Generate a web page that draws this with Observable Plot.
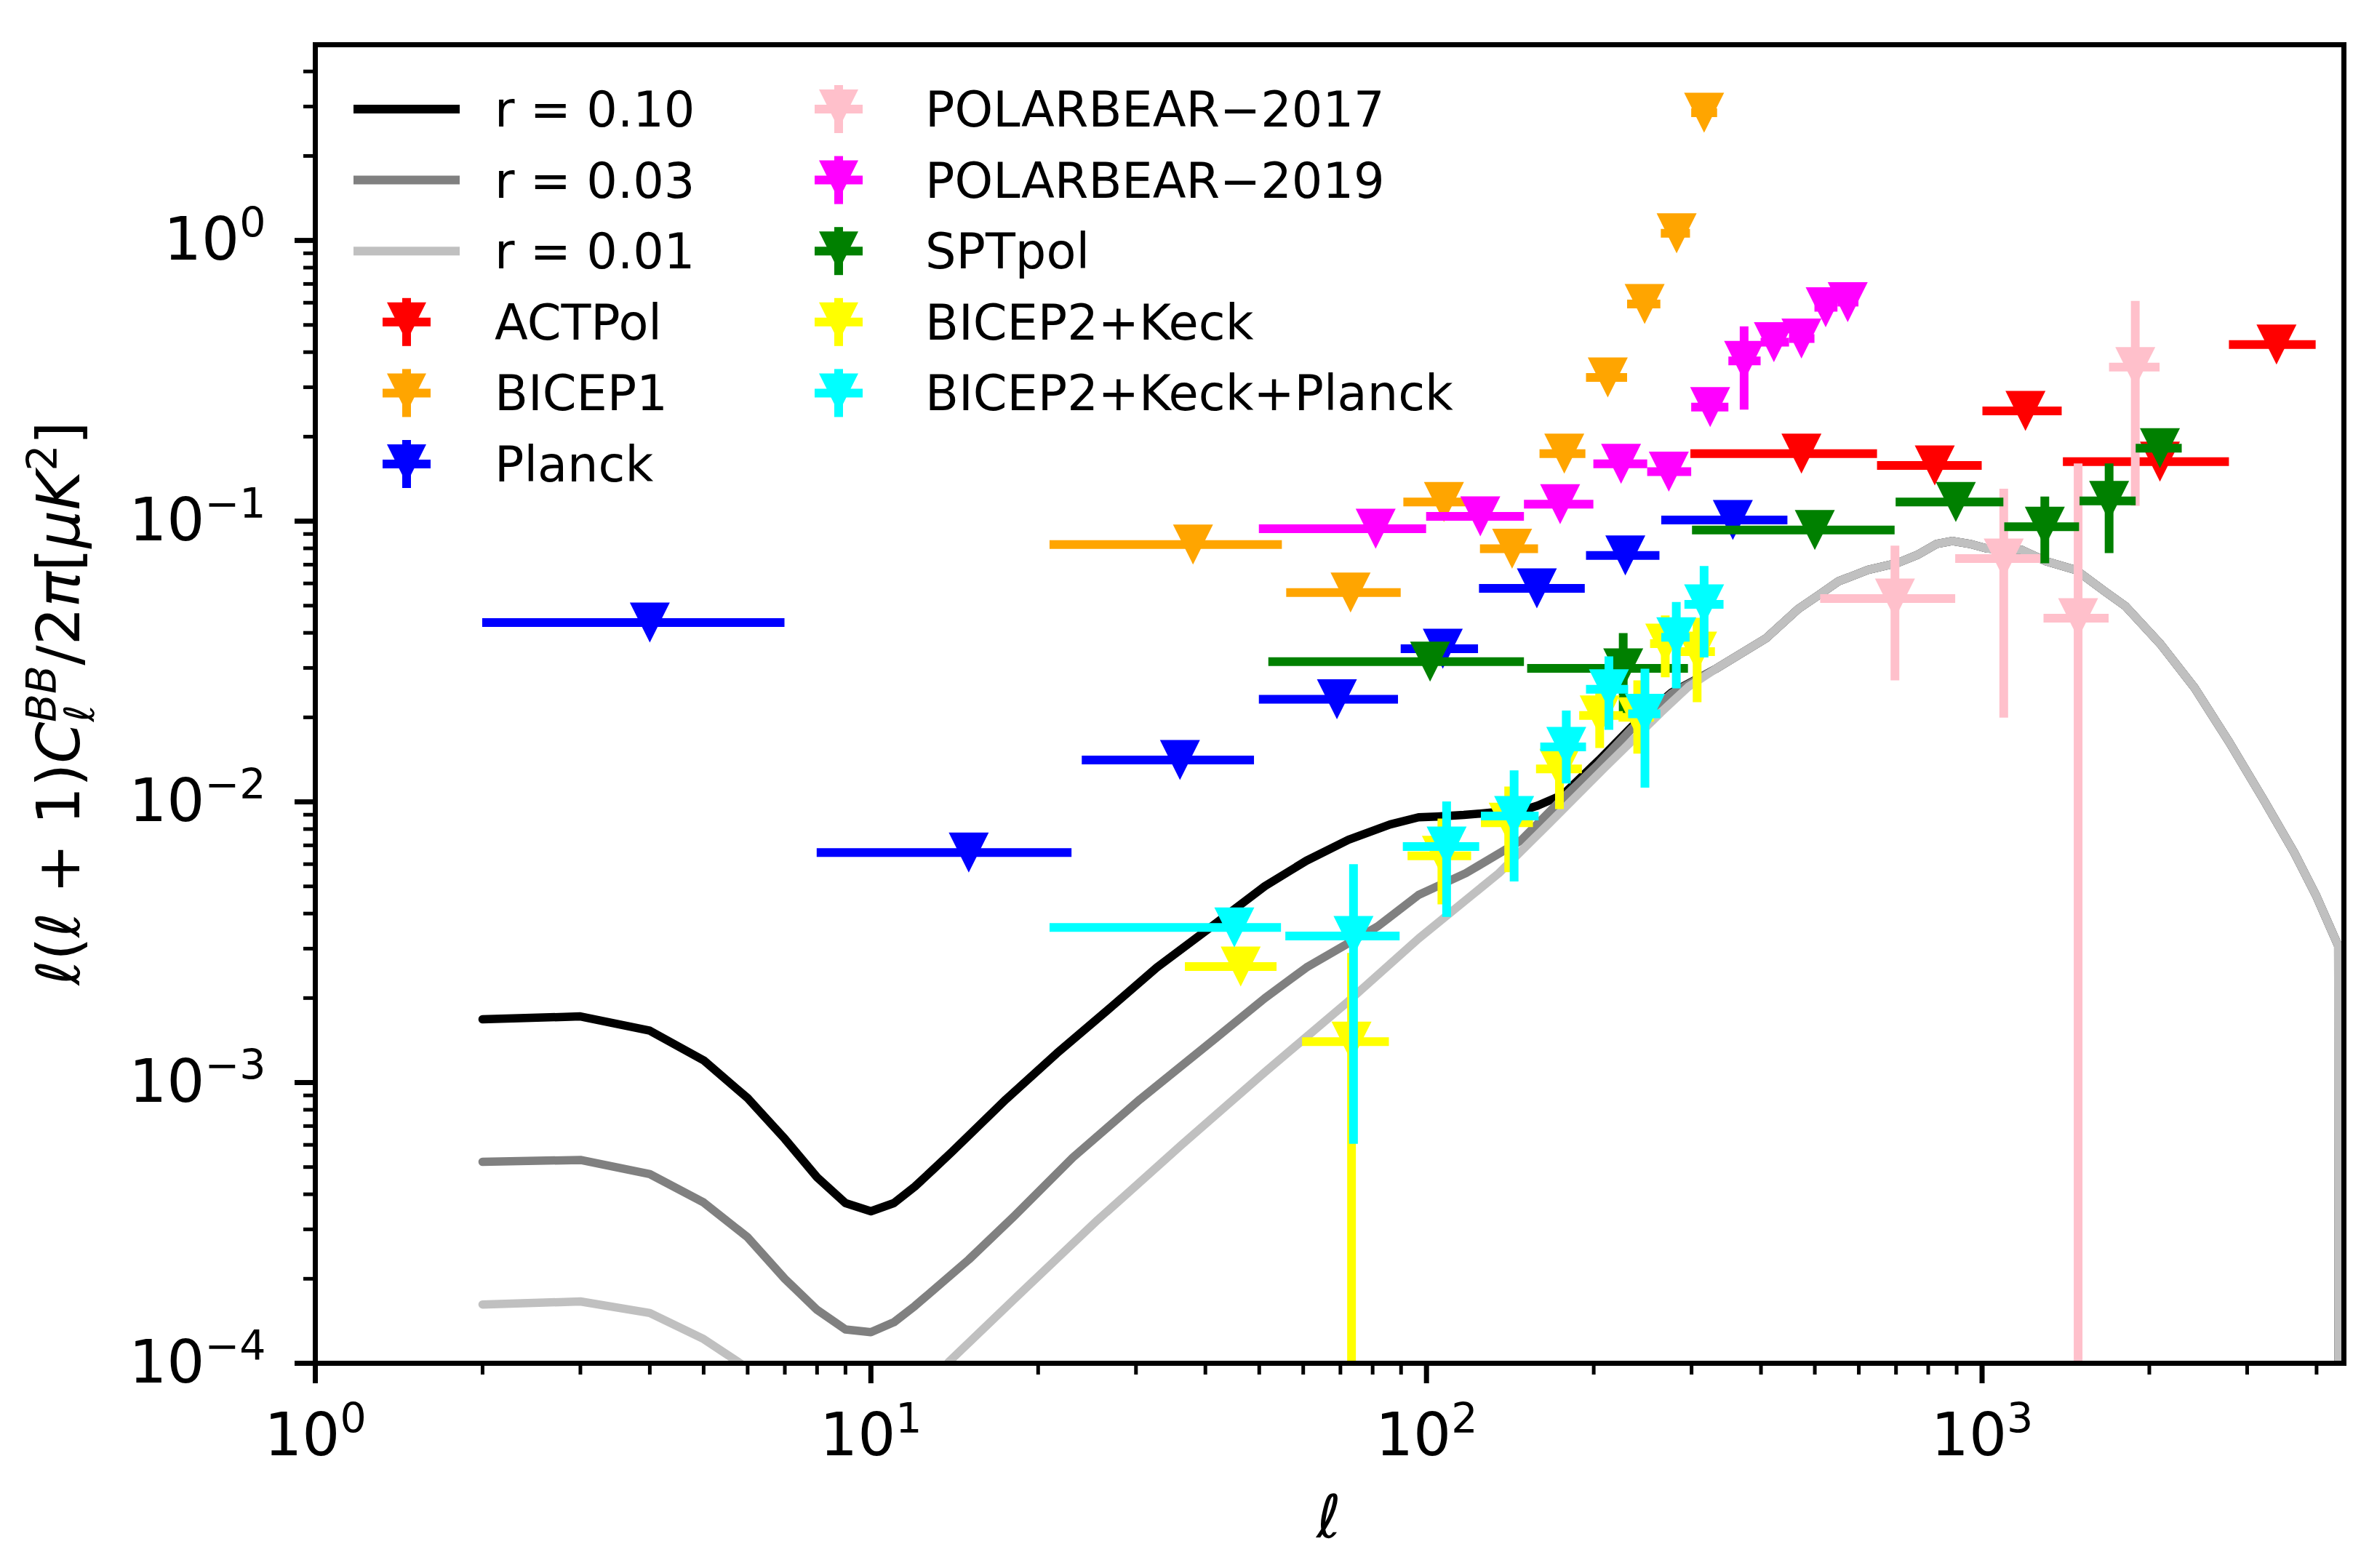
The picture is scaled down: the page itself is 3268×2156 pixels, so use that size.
<!DOCTYPE html>
<html><head><meta charset="utf-8">
<script src="https://cdn.jsdelivr.net/npm/d3@7"></script>
<script src="https://cdn.jsdelivr.net/npm/@observablehq/plot@0.6"></script>
<style>html,body{margin:0;padding:0;background:#fff;} svg{display:block;}</style>
</head><body><div id="chart"></div>
<script>
// ---------- theory curves ----------
const r010Ell = [2,3,4,5,6,7,8,9,10,11,12,13,14,17.5,21.6,27,32.7,41.6,51.2,60.8,72.4,86,96.8,104.7,116.7,132,150,158.5,176,204.5,234.7,276];
const r010Val = [1.68e-3,1.72e-3,1.53e-3,1.20e-3,8.8e-4,6.3e-4,4.6e-4,3.72e-4,3.48e-4,3.72e-4,4.26e-4,4.94e-4,5.67e-4,8.71e-4,1.27e-3,1.85e-3,2.57e-3,3.67e-3,5.01e-3,6.17e-3,7.33e-3,8.31e-3,8.81e-3,8.87e-3,8.98e-3,9.17e-3,9.37e-3,9.7e-3,1.06e-2,1.41e-2,1.86e-2,2.45e-2];
const r003Ell = [2,3,4,5,6,7,8,9,10,11,12,15,18.1,23.1,30.5,41.6,51.2,60.8,72.4,81.7,96.8,117.7,148,176,204.5,234.7,276];
const r003Val = [5.22e-4,5.3e-4,4.72e-4,3.74e-4,2.81e-4,2.0e-4,1.55e-4,1.32e-4,1.29e-4,1.40e-4,1.60e-4,2.34e-4,3.34e-4,5.41e-4,8.71e-4,1.43e-3,2.00e-3,2.57e-3,3.14e-3,3.60e-3,4.66e-3,5.57e-3,7.29e-3,1.03e-2,1.37e-2,1.83e-2,2.43e-2];
const r001Ell = [2,3,4,5,6,7,8,9,10,11,12,13.8,18.1,25.6,36.2,51.2,72.4,96.8,135,166,209,264,296];
const r001Val = [1.62e-4,1.66e-4,1.51e-4,1.22e-4,9.6e-5,7.5e-5,6.2e-5,5.6e-5,5.5e-5,5.9e-5,6.6e-5,1.01e-4,1.69e-4,3.24e-4,5.99e-4,1.09e-3,1.95e-3,3.26e-3,5.57e-3,8.36e-3,1.32e-2,2.08e-2,2.57e-2];
// common high-ell (lensing dominated) tail
const lensEll = [332,408,467,508,551,623,705,767,829,884,950,1018,1100,1177,1304,1475,1668,1811,2094,2412,2786,3219,3645,4000,4376,4395];
const lensVal = [2.98e-2,3.82e-2,4.87e-2,5.45e-2,6.1e-2,6.7e-2,7.1e-2,7.6e-2,8.3e-2,8.5e-2,8.3e-2,8.0e-2,7.9e-2,7.9e-2,7.2e-2,6.7e-2,5.6e-2,4.98e-2,3.65e-2,2.55e-2,1.63e-2,1.01e-2,6.6e-3,4.6e-3,3.07e-3,1e-7];

// ---------- experiments ----------
const actpolEll = [473, 822, 1197, 2090, 3388];
const actpolLo  = [299, 648, 1003, 1400, 2786];
const actpolHi  = [648, 1000, 1393, 2786, 3991];
const actpolVal = [0.174, 0.158, 0.247, 0.163, 0.426];

const bicep1Ell = [38, 73, 107.5, 142.6, 177, 212, 247, 282, 316];
const bicep1Lo  = [21, 56, 91, 125, 160, 194, 230, 264.5, 300];
const bicep1Hi  = [55, 90, 124, 159, 193.5, 230, 264, 298.5, 334];
const bicep1Val = [0.0826, 0.0557, 0.117, 0.0798, 0.174, 0.325, 0.594, 1.06, 2.85];

const planckEll = [4, 15, 36, 69, 107, 158, 228, 356];
const planckLo  = [2, 8, 24, 50, 90, 124.5, 194, 265];
const planckHi  = [7, 23, 49, 89, 124, 193, 263, 447];
const planckVal = [0.0435, 0.0066, 0.0141, 0.0232, 0.0351, 0.0576, 0.0755, 0.101];

const pb17Ell = [697, 1094, 1489, 1887];
const pb17Lo  = [512, 896, 1292, 1695];
const pb17Hi  = [896, 1290, 1692, 2090];
const pb17Val = [0.053, 0.0736, 0.0451, 0.354];
const pb17YLo = [0.027, 0.0199, 1e-6, 0.113];
const pb17YHi = [0.0816, 0.130, 0.160, 0.607];

const pb19Ell = [81, 125, 174, 224, 273, 324, 373, 422, 473, 523, 573];
const pb19Lo  = [50, 100, 150, 200, 250, 300, 350, 400, 450, 500, 550];
const pb19Hi  = [100, 150, 200, 250, 300, 350, 400, 450, 500, 550, 600];
const pb19Val = [0.094, 0.104, 0.115, 0.160, 0.150, 0.255, 0.372, 0.434, 0.447, 0.578, 0.603];
const pb19YLo = [null, null, null, null, null, null, 0.249, null, null, null, null];
const pb19YHi = [null, null, null, null, null, null, 0.493, null, null, null, null];

const sptEll = [101.5, 226, 500, 897, 1297, 1693, 2090];
const sptLo  = [52, 152, 301, 700, 1098, 1500, 1893];
const sptHi  = [150, 296, 697, 1094, 1497, 1893, 2291];
const sptVal = [0.0316, 0.0299, 0.0930, 0.117, 0.0955, 0.118, 0.182];
const sptYLo = [null, 0.0201, null, null, 0.0706, 0.0767, null];
const sptYHi = [null, 0.0398, null, null, 0.122, 0.160, null];

const bkEll = [46.3, 73.3, 106.6, 140.6, 173.5, 205, 240, 269, 307];
const bkLo  = [36.8, 59.8, 92.6, 125.5, 157.7, 188.6, 222, 253, 285];
const bkHi  = [53.8, 85.7, 120.5, 155.7, 190.7, 226, 257, 287, 331];
const bkVal = [2.59e-3, 1.40e-3, 6.42e-3, 8.43e-3, 1.31e-2, 2.03e-2, 2.0e-2, 3.66e-2, 3.43e-2];
const bkYLo = [null, 1e-6, 4.3e-3, 5.6e-3, 9.4e-3, 1.55e-2, 1.48e-2, 2.77e-2, 2.26e-2];
const bkYHi = [null, 2.89e-3, 8.7e-3, 1.13e-2, 1.75e-2, 2.45e-2, 2.7e-2, 4.6e-2, 4.51e-2];

const bkpEll = [45.1, 73.9, 108.7, 143.8, 178.5, 213, 247.3, 281.6, 316];
const bkpLo  = [21.0, 55.8, 90.8, 125.5, 160.5, 194, 231, 265, 291.7];
const bkpHi  = [54.8, 89.6, 124.6, 159.4, 194, 231, 264, 298, 343];
const bkpVal = [3.57e-3, 3.33e-3, 6.93e-3, 8.91e-3, 1.57e-2, 2.52e-2, 2.06e-2, 3.86e-2, 5.05e-2];
const bkpYLo = [null, 6.03e-4, 3.88e-3, 5.19e-3, 1.16e-2, 1.80e-2, 1.12e-2, 2.53e-2, 3.26e-2];
const bkpYHi = [null, 5.98e-3, 1.00e-2, 1.29e-2, 2.11e-2, 3.29e-2, 2.97e-2, 5.14e-2, 6.90e-2];

const curveLabels = ["r = 0.10", "r = 0.03", "r = 0.01"];
const curveColors = ["black", "gray", "silver"];
const xMajor = [1, 10, 100, 1000];
const yMajor = [1e-4, 1e-3, 1e-2, 1e-1, 1];

// ---------- build tables ----------
const curveRows = (e, v) => e.map((x, i) => ({ell: x, v: v[i]}));
const curves = [
  curveRows(r010Ell.concat(lensEll), r010Val.concat(lensVal)),
  curveRows(r003Ell.concat(lensEll), r003Val.concat(lensVal)),
  curveRows(r001Ell.concat(lensEll), r001Val.concat(lensVal))
];
const rows = (ell, lo, hi, val, ylo, yhi) => ell.map((e, i) => ({ell: e, lo: lo[i], hi: hi[i], v: val[i],
  ylo: ylo ? ylo[i] : null, yhi: yhi ? yhi[i] : null}));
const datasets = [
  {name: "ACTPol", color: "red", data: rows(actpolEll, actpolLo, actpolHi, actpolVal)},
  {name: "BICEP1", color: "orange", data: rows(bicep1Ell, bicep1Lo, bicep1Hi, bicep1Val)},
  {name: "Planck", color: "blue", data: rows(planckEll, planckLo, planckHi, planckVal)},
  {name: "POLARBEAR\u22122017", color: "pink", data: rows(pb17Ell, pb17Lo, pb17Hi, pb17Val, pb17YLo, pb17YHi)},
  {name: "POLARBEAR\u22122019", color: "magenta", data: rows(pb19Ell, pb19Lo, pb19Hi, pb19Val, pb19YLo, pb19YHi)},
  {name: "SPTpol", color: "green", data: rows(sptEll, sptLo, sptHi, sptVal, sptYLo, sptYHi)},
  {name: "BICEP2+Keck", color: "yellow", data: rows(bkEll, bkLo, bkHi, bkVal, bkYLo, bkYHi)},
  {name: "BICEP2+Keck+Planck", color: "cyan", data: rows(bkpEll, bkpLo, bkpHi, bkpVal, bkpYLo, bkpYHi)}
];

const xMinor = [];
for (const d of [1, 10, 100, 1000]) for (let k = 2; k <= 9; k++) if (k * d <= 4480) xMinor.push(k * d);
const yMinor = [];
for (const d of [1e-4, 1e-3, 1e-2, 1e-1, 1]) for (let k = 2; k <= 9; k++) if (k * d < 4.98) yMinor.push(k * d);

const triDown = {draw(ctx, size) { const h = Math.sqrt(size / Math.PI); ctx.moveTo(0, h); ctx.lineTo(-h, -h); ctx.lineTo(h, -h); ctx.closePath(); }};
const fmt = d => { const e = Math.round(Math.log10(d)); return "10^" + (e < 0 ? "\u2212" + (-e) : String(e)); };

const marks = [];
curves.forEach((c, i) => marks.push(Plot.line(c, {x: "ell", y: "v", stroke: curveColors[i], strokeWidth: 11.5, strokeLinejoin: "round", clip: true})));
for (const s of datasets) {
  marks.push(Plot.ruleY(s.data, {y: "v", x1: "lo", x2: "hi", stroke: s.color, strokeWidth: 12, clip: true}));
  const withY = s.data.filter(d => d.ylo != null);
  if (withY.length) marks.push(Plot.ruleX(withY, {x: "ell", y1: "ylo", y2: "yhi", stroke: s.color, strokeWidth: 12, clip: true}));
  marks.push(Plot.dot(s.data, {x: "ell", y: "v", symbol: triDown, r: 27.5, fill: s.color, stroke: "none"}));
}
marks.push(
  Plot.axisX({ticks: xMinor, tickSize: 16, strokeWidth: 5, stroke: "black", fill: "none", label: null}),
  Plot.axisX({ticks: xMajor, tickSize: 28, tickPadding: 40, strokeWidth: 7, stroke: "black", fill: "black", fontSize: 82, tickFormat: fmt, label: null}),
  Plot.axisY({ticks: yMinor, tickSize: 16, strokeWidth: 5, stroke: "black", fill: "none", label: null}),
  Plot.axisY({ticks: yMajor, tickSize: 28, tickPadding: 40, strokeWidth: 7, stroke: "black", fill: "black", fontSize: 82, tickFormat: fmt, label: null}),
  Plot.frame({stroke: "black", strokeWidth: 7})
);

const svg = Plot.plot({
  width: 3268, height: 2156,
  marginLeft: 433, marginRight: 46, marginTop: 61, marginBottom: 282,
  x: {type: "log", domain: [1, 4480]},
  y: {type: "log", domain: [1e-4, 4.98]},
  style: {fontFamily: "'DejaVu Sans', sans-serif", background: "white", color: "black"},
  marks
});
document.getElementById("chart").appendChild(svg);

const NS = "http://www.w3.org/2000/svg";
// superscript tick labels
d3.select(svg).selectAll('g[aria-label$="tick label"] text').each(function () {
  const m = /^10\^(.*)$/.exec(this.textContent);
  if (!m) return;
  this.textContent = "10";
  const ts = document.createElementNS(NS, "tspan");
  ts.setAttribute("dy", "-31"); ts.setAttribute("font-size", "57"); ts.textContent = m[1];
  this.appendChild(ts);
});

const root = d3.select(svg);
// y label
const yl = root.append("text").attr("transform", "translate(109,967) rotate(-90)").attr("text-anchor", "middle")
  .attr("font-family", "DejaVu Sans").attr("font-size", 82).attr("fill", "black");
yl.append("tspan").attr("font-style", "italic").text("\u2113");
yl.append("tspan").text("(");
yl.append("tspan").attr("font-style", "italic").text("\u2113");
yl.append("tspan").text(" + 1)");
yl.append("tspan").attr("font-style", "italic").text("C");
yl.append("tspan").attr("font-style", "italic").attr("font-size", 57).attr("dy", 20).text("\u2113");
yl.append("tspan").attr("font-style", "italic").attr("font-size", 57).attr("dx", -24).attr("dy", -52).text("BB");
yl.append("tspan").attr("dy", 32).text("/2");
yl.append("tspan").attr("font-style", "italic").text("\u03c0");
yl.append("tspan").text("[");
yl.append("tspan").attr("font-style", "italic").text("\u03bcK");
yl.append("tspan").attr("font-size", 57).attr("dy", -31).text("2");
yl.append("tspan").attr("dy", 31).text("]");
// x label
root.append("text").attr("x", 1827).attr("y", 2114).attr("text-anchor", "middle").attr("font-family", "DejaVu Sans")
  .attr("font-style", "italic").attr("font-size", 82).attr("fill", "black").text("\u2113");

// legend
const lg = root.append("g").attr("font-family", "DejaVu Sans").attr("font-size", 67).attr("fill", "black").attr("text-anchor", "start");
const rowY = i => 150 + i * 97.6;
curveLabels.forEach((lab, i) => {
  lg.append("line").attr("x1", 486).attr("x2", 632).attr("y1", rowY(i)).attr("y2", rowY(i))
    .attr("stroke", curveColors[i]).attr("stroke-width", 12);
  lg.append("text").attr("x", 680).attr("y", rowY(i) + 24).attr("text-anchor", "start").text(lab);
});
datasets.forEach((s, j) => {
  const col = j < 3 ? 0 : 1;
  const i = j < 3 ? j + 3 : j - 3;
  const cx = col ? 1153 : 559, cy = rowY(i);
  const tx = col ? 1272 : 680;
  lg.append("line").attr("x1", cx - 33).attr("x2", cx + 33).attr("y1", cy).attr("y2", cy).attr("stroke", s.color).attr("stroke-width", 12);
  lg.append("line").attr("x1", cx).attr("x2", cx).attr("y1", cy - 33).attr("y2", cy + 33).attr("stroke", s.color).attr("stroke-width", 12);
  lg.append("path").attr("d", `M${cx - 27},${cy - 27}L${cx + 27},${cy - 27}L${cx},${cy + 27}Z`).attr("fill", s.color);
  lg.append("text").attr("x", tx).attr("y", cy + 24).attr("text-anchor", "start").text(s.name);
});
</script>
</body></html>
